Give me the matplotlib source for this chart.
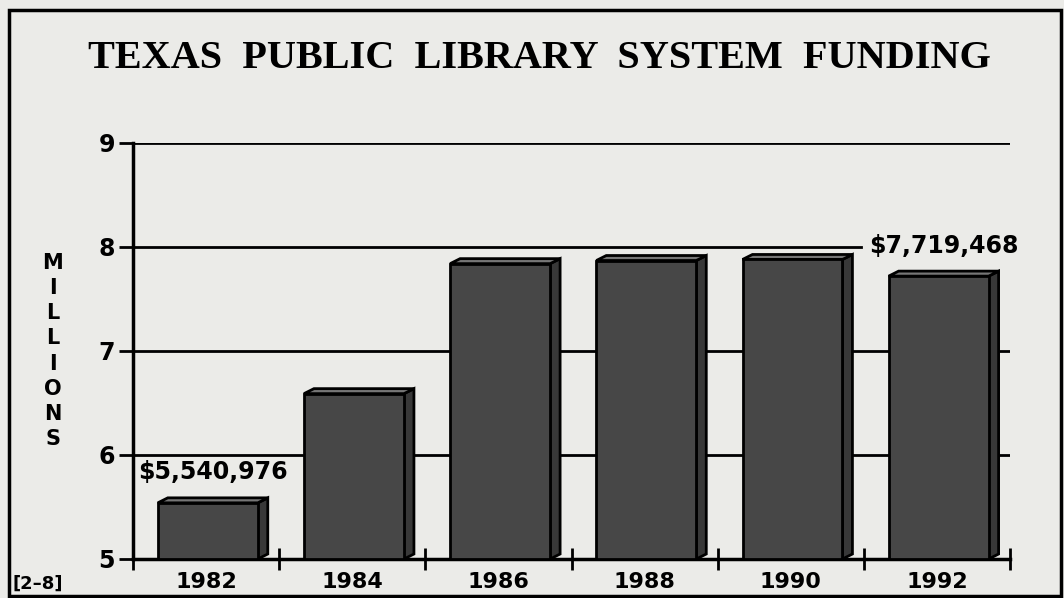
import matplotlib.pyplot as plt
from matplotlib.patches import Polygon, Rectangle

years = ['1982', '1984', '1986', '1988', '1990', '1992']
funding = [5.54, 6.59, 7.84, 7.87, 7.88, 7.72]  # millions of dollars
value_labels = {0: '$5,540,976', 5: '$7,719,468'}
yticks = [5, 6, 7, 8, 9]

paper = '#ebebe8'
front = '#474747'
side = '#383838'
top = '#767676'

fig = plt.figure(figsize=(10.64, 5.98), dpi=100, facecolor=paper)
ax = fig.add_axes([133 / 1064, 1 - 559 / 598, 877 / 1064, 416 / 598])
ax.set_facecolor(paper)
ax.set_xlim(0, len(years))
ax.set_ylim(yticks[0], yticks[-1])

# horizontal rules, the 8 line stops where the 1992 label starts
for y in yticks[1:]:
    ax.axhline(y, color='k', lw=2, xmax=0.83 if y == 8 else 1, zorder=1)

# pseudo 3d bars
off, w = 0.17, 0.684
dx, dy = 0.068, 0.048
base = yticks[0]
for i, v in enumerate(funding):
    x0 = i + off
    x1 = x0 + w
    ax.bar(x0, v - base, bottom=base, width=w, align='edge', color=front,
           edgecolor='k', lw=2, zorder=3)
    ax.add_patch(Polygon([(x1, base), (x1 + dx, base + dy), (x1 + dx, v + dy), (x1, v)],
                         closed=True, facecolor=side, edgecolor='k', lw=2, zorder=2))
    ax.add_patch(Polygon([(x0, v), (x0 + dx, v + dy), (x1 + dx, v + dy), (x1, v)],
                         closed=True, facecolor=top, edgecolor='k', lw=2, zorder=2))
    if i in value_labels:
        ax.annotate(value_labels[i], (x0 + (w + dx) / 2, v), xytext=(0, 22),
                    textcoords='offset points', ha='center', va='center',
                    fontsize=17, fontweight='bold', family='DejaVu Sans')

for s in ['top', 'right']:
    ax.spines[s].set_visible(False)
for s in ['left', 'bottom']:
    ax.spines[s].set_linewidth(2.5)

ax.set_yticks(yticks)
ax.set_yticklabels([str(t) for t in yticks], fontsize=17, fontweight='bold')
ax.tick_params(axis='y', direction='out', length=10, width=2, pad=3)

ax.set_xticks(range(len(years) + 1))
ax.set_xticklabels([])
ax.tick_params(axis='x', which='major', direction='inout', length=16, width=2)
ax.set_xticks([i + 0.5 for i in range(len(years))], minor=True)
ax.set_xticklabels(years, minor=True, fontsize=16, fontweight='bold')
ax.tick_params(axis='x', which='minor', length=0, pad=9)

fig.text(0.507, 1 - 58 / 598, 'TEXAS  PUBLIC  LIBRARY  SYSTEM  FUNDING', ha='center', va='center',
         family='Liberation Serif', fontweight='bold', fontsize=29)
fig.text(53 / 1064, 1 - 351 / 598, '\n'.join('MILLIONS'), ha='center', va='center',
         fontsize=15, fontweight='bold', linespacing=1.33)
fig.text(12 / 1064, 1 - 584 / 598, '[2\u20138]', ha='left', va='center',
         fontsize=13, fontweight='bold')

# scanned page frame
fig.add_artist(Rectangle((9 / 1064, 2 / 598), 1052 / 1064, 586 / 598,
                         transform=fig.transFigure, fill=False, lw=2.5, ec='k'))

fig.savefig('out.png', dpi=100, facecolor=paper)
